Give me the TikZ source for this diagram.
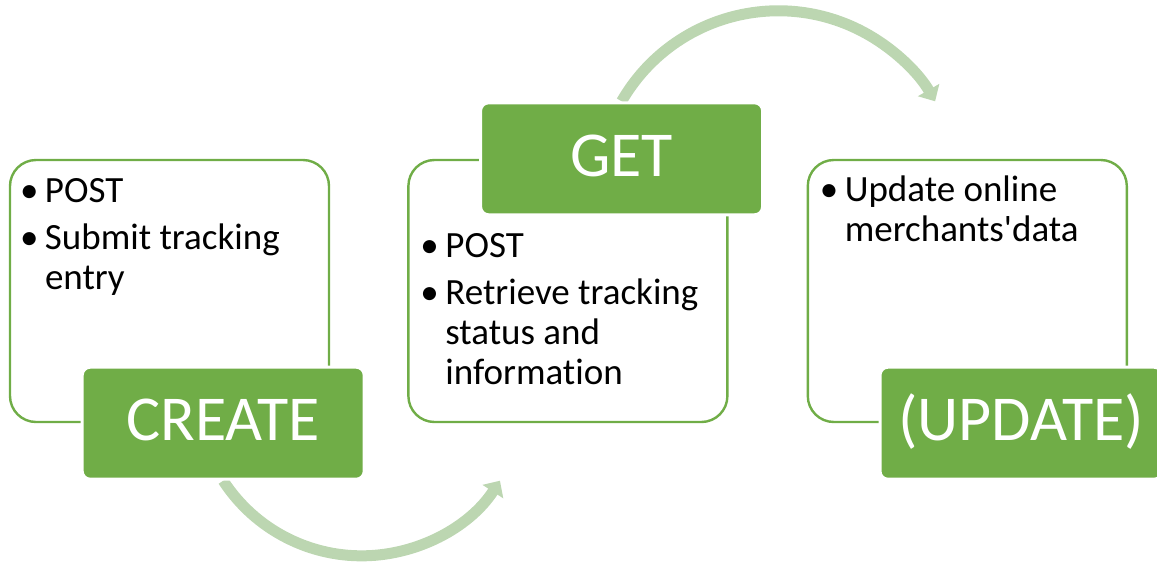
\documentclass[tikz,border=0pt]{standalone}
\usepackage{fontspec}
\setmainfont{Carlito}[Ligatures={NoCommon}]
\usetikzlibrary{arrows.meta, backgrounds, positioning}
\definecolor{leaf}{HTML}{70AD47}
\definecolor{pale}{HTML}{BCD6B1}
\newcommand{\bul}{\makebox[25pt][l]{\textbullet}}

\begin{document}
\begin{tikzpicture}[x=1pt, y=-1pt, >={Triangle[width=24pt,length=13pt]},
    panel/.style={draw=leaf, line width=2.4pt, rounded corners=26pt, minimum width=319pt, minimum height=262pt, inner sep=0pt},
    tag/.style={fill=leaf, draw=white, line width=3pt, rounded corners=8pt, minimum width=282pt, minimum height=112pt, inner sep=0pt, text=white, font=\fontsize{64}{70}\selectfont, text height=35pt, text depth=0pt},
    list/.style={inner sep=0pt, align=left, font=\fontsize{37}{40}\selectfont},
    flow/.style={->, draw=pale, line width=11pt}]

    \useasboundingbox (0,0) rectangle (1157,563);

    \node[panel]         (A) at (169.5,291)   {};
    \node[panel]         (B) [right=77pt of A] {};
    \node[panel]         (C) [right=78pt of B] {};

    \node[tag]           (create) at ([xshift=-107pt]A.south east) {CREATE};
    \node[tag]           (get)    at ([xshift=-107pt]B.north east) {GET};
    \node[tag]           (update) at ([xshift=-107pt]C.south east) {(UPDATE)};

    \node[list]          (a) [below right=15pt and 11pt of A.north west]
        {\begin{tabular}{@{}l@{}l@{}} \bul & POST\\[7pt] \bul & Submit tracking\\ & entry \end{tabular}};
    \node[list]          (b) [below right=70pt and 13pt of B.north west]
        {\begin{tabular}{@{}l@{}l@{}} \bul & POST\\[7pt] \bul & Retrieve tracking\\ & status and\\ & information \end{tabular}};
    \node[list]          (c) [below right=14pt and 13pt of C.north west]
        {\begin{tabular}{@{}l@{}l@{}} \bul & Update online\\ & merchants\textquotesingle data \end{tabular}};

    \begin{scope}[on background layer]
        \draw[flow] (create.south) arc[start angle=147, end angle=33, radius=165];
        \draw[flow] (get.north) arc[start angle=210, end angle=330, radius=181];
    \end{scope}
\end{tikzpicture}
\end{document}
